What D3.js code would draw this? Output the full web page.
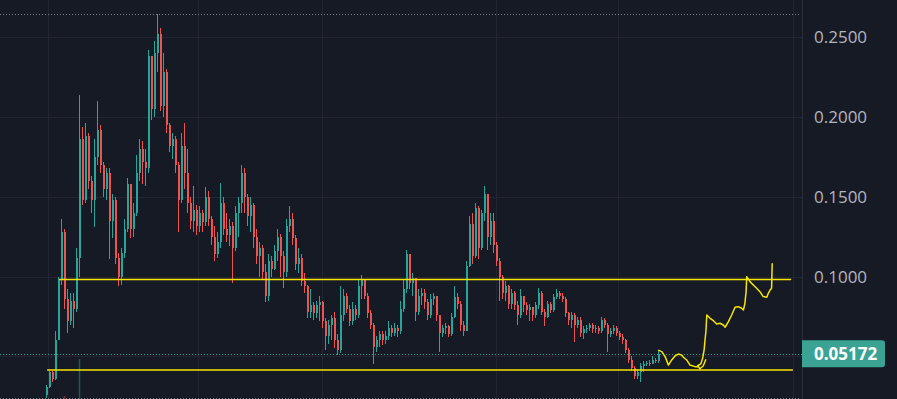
<!DOCTYPE html>
<html><head><meta charset="utf-8">
<script src="https://cdn.jsdelivr.net/npm/d3@7"></script>
<style>html,body{margin:0;padding:0;background:#161a25;overflow:hidden}</style>
</head><body><svg id="c" width="897" height="399"></svg>
<script>
// ---- data ----
const firstOpen = .026;
const closes = [
.031,.040,.036,.060,.098,.128,.086,.072,.085,.080,.112,.186,.148,.188,.160,.148,.175,.192,.170,.155,
.165,.135,.148,.112,.100,.115,.130,.158,.130,.140,.165,.180,.172,.168,.238,.205,.240,.252,.207,.228,
.195,.182,.186,.170,.148,.182,.165,.146,.135,.142,.132,.140,.134,.150,.136,.125,.114,.122,.146,.130,
.126,.132,.118,.140,.146,.165,.150,.138,.145,.125,.113,.118,.103,.088,.110,.105,.116,.125,.113,.103,
.132,.136,.124,.108,.112,.097,.094,.078,.082,.077,.082,.084,.072,.063,.070,.074,.060,.054,.076,.088,
.080,.072,.080,.076,.094,.098,.088,.077,.070,.056,.060,.064,.060,.063,.068,.065,.068,.066,.080,.092,
.114,.096,.099,.078,.088,.090,.084,.076,.086,.088,.076,.065,.068,.069,.064,.075,.087,.083,.070,.066,
.107,.133,.113,.143,.118,.140,.152,.125,.135,.120,.110,.100,.090,.094,.083,.090,.082,.076,.088,.082,
.079,.081,.076,.082,.090,.078,.075,.083,.079,.087,.090,.088,.086,.077,.073,.076,.070,.073,.065,.067,
.068,.070,.067,.068,.066,.073,.070,.064,.066,.068,.065,.062,.060,.054,.048,.043,.038,.040,.044,.045,
.046,.045,.048,.047,.05172];
const highs = [
.032,.041,.041,.066,.100,.136,.130,.092,.090,.090,.118,.214,.194,.196,.190,.163,.186,.210,.195,.172,
.168,.168,.152,.150,.115,.118,.136,.162,.158,.146,.176,.186,.185,.180,.242,.238,.248,.2644,.256,.240,
.230,.196,.190,.188,.172,.190,.196,.180,.150,.157,.145,.144,.142,.156,.154,.138,.132,.128,.159,.150,
.140,.136,.134,.144,.150,.170,.168,.152,.150,.146,.130,.122,.120,.108,.114,.113,.120,.130,.127,.116,
.136,.144,.140,.126,.118,.114,.102,.095,.092,.084,.085,.088,.085,.074,.073,.076,.078,.064,.094,.092,
.090,.082,.084,.082,.098,.101,.098,.090,.079,.071,.063,.066,.066,.066,.072,.070,.071,.070,.085,.098,
.117,.112,.102,.096,.092,.093,.092,.086,.089,.090,.088,.076,.070,.071,.070,.077,.094,.090,.085,.072,
.110,.138,.140,.146,.144,.142,.157,.152,.140,.140,.122,.112,.101,.097,.095,.092,.091,.085,.092,.088,
.084,.083,.081,.084,.093,.091,.080,.085,.084,.089,.092,.091,.090,.087,.078,.078,.077,.075,.075,.069,
.070,.071,.071,.070,.069,.075,.074,.071,.068,.070,.069,.066,.064,.061,.055,.050,.044,.042,.046,.047,
.047,.048,.050,.049,.054];
const lows = [
.024,.030,.034,.035,.065,.095,.080,.065,.070,.068,.078,.100,.145,.146,.155,.140,.131,.170,.165,.150,
.148,.111,.124,.108,.094,.095,.112,.128,.124,.125,.138,.160,.158,.157,.165,.198,.200,.228,.204,.200,
.190,.178,.174,.165,.128,.146,.155,.140,.130,.128,.126,.128,.128,.132,.132,.120,.110,.112,.118,.126,
.122,.119,.096,.116,.125,.140,.140,.132,.128,.118,.108,.100,.098,.084,.085,.100,.104,.110,.100,.093,
.100,.128,.120,.104,.102,.094,.090,.074,.074,.073,.074,.072,.068,.054,.058,.060,.055,.051,.052,.072,
.077,.069,.070,.073,.074,.086,.086,.074,.067,.045,.053,.056,.057,.058,.060,.062,.063,.062,.064,.078,
.090,.092,.088,.072,.076,.082,.080,.073,.074,.082,.072,.053,.062,.064,.062,.063,.074,.080,.066,.063,
.066,.106,.108,.112,.111,.117,.135,.117,.120,.115,.107,.085,.086,.085,.080,.080,.079,.070,.074,.078,
.076,.072,.072,.074,.080,.076,.069,.074,.077,.078,.086,.086,.084,.075,.070,.068,.059,.068,.062,.061,
.065,.066,.065,.065,.064,.065,.068,.053,.062,.064,.063,.060,.058,.052,.046,.041,.036,.036,.034,.040,
.044,.044,.045,.046,.046];
const yTicks = [0.25, 0.20, 0.15, 0.10, 0.05];
const yLabels = ["0.2500", "0.2000", "0.1500", "0.1000"];
const lastPrice = 0.05172;
const highLine = 0.2644, lowLine = 0.0240;
const resistance = 0.0983, support = 0.0415;
const timeGrid = [0.5, 50.5, 91.8, 149.8, 190.5, 248.8];
const volIdx = [6, 11], volVals = [3, 40];
// hand-drawn projection (bar index, price)
const projA = [[203.9,.0540],[205.1,.0530],[206.2,.0499],[207.3,.0446],[208.4,.0478],[209.5,.0503],
 [210.6,.0515],[211.7,.0509],[212.3,.0495],[213.4,.0478],[214.5,.0446],[216.2,.0436],[217.3,.0436],
 [217.8,.0423],[218.9,.0440],[219.8,.0482]];
const projB = [[216.9,.0440],[218.1,.0453],[218.7,.0488],[219.2,.0540],[219.5,.0603],[219.8,.0655],
 [220.1,.0760],[221.2,.0739],[222.3,.0724],[223.4,.0703],[224.5,.0708],[225.6,.0697],[226.2,.0683],
 [227.3,.0718],[228.4,.0760],[229.5,.0808],[230.6,.0812],[231.7,.0802],[232.3,.0791],[232.8,.0833],
 [233.2,.0906],[233.4,.1000],[234.5,.0969],[235.6,.0948],[236.7,.0927],[237.8,.0906],[238.9,.0875],
 [240.1,.0871],[240.6,.0896],[241.2,.0916],[241.7,.0927],[241.9,.1084]];

// ---- drawing ----
const W = 897, H = 399, plotR = 802;
const UP = "#26a69a", DOWN = "#ef5350", YEL = "#f7e600";
const svg = d3.select("#c");
const x = d3.scaleLinear().domain([0, 204]).range([46.5, 658.5]);
const y = d3.scaleLinear().domain([0.02333, 0.2734]).range([H, 0]);
const vy = d3.scaleLinear().domain([0, 100]).range([H, H - 100]);

svg.append("rect").attr("width", W).attr("height", H).attr("fill", "#161a25");

const grid = svg.append("g").attr("stroke", "#232632").attr("stroke-width", 1).attr("shape-rendering", "crispEdges");
grid.selectAll(".h").data(yTicks).join("line")
  .attr("x1", 0).attr("x2", plotR).attr("y1", d => Math.round(y(d)) + 0.5).attr("y2", d => Math.round(y(d)) + 0.5);
grid.selectAll(".v").data(timeGrid).join("line")
  .attr("y1", 0).attr("y2", H).attr("x1", d => Math.round(x(d)) + 0.5).attr("x2", d => Math.round(x(d)) + 0.5);
svg.append("line").attr("x1", plotR + 0.5).attr("x2", plotR + 0.5).attr("y1", 0).attr("y2", H)
  .attr("stroke", "#2a2e39").attr("stroke-width", 1);

// volume
svg.append("g").selectAll("rect").data(volIdx).join("rect")
  .attr("x", d => x(d) - 0.75).attr("width", 1.5)
  .attr("y", (d, k) => vy(volVals[k])).attr("height", (d, k) => H - vy(volVals[k]))
  .attr("fill", d => (closes[d] >= (d ? closes[d - 1] : firstOpen)) ? UP : DOWN).attr("opacity", 0.45);

// candles
const data = closes.map((c, i) => ({ i, o: i ? closes[i - 1] : firstOpen, c, h: highs[i], l: lows[i] }));
const cg = svg.append("g").attr("shape-rendering", "crispEdges");
const cs = cg.selectAll("g").data(data).join("g").attr("fill", d => d.c >= d.o ? UP : DOWN);
cs.append("rect").attr("x", d => x(d.i) - 0.5).attr("width", 1)
  .attr("y", d => y(d.h)).attr("height", d => Math.max(1, y(d.l) - y(d.h)));
cs.append("rect").attr("x", d => x(d.i) - 1).attr("width", 2.2)
  .attr("y", d => y(Math.max(d.o, d.c))).attr("height", d => Math.max(1, Math.abs(y(d.o) - y(d.c))));

// dotted price lines
const dotted = (v, col, x2) => svg.append("line").attr("x1", 0).attr("x2", x2)
  .attr("y1", Math.round(y(v)) + 0.5).attr("y2", Math.round(y(v)) + 0.5)
  .attr("stroke", col).attr("stroke-width", 1).attr("stroke-dasharray", "1,2");
dotted(highLine, "#787b86", 800);
dotted(lowLine, "#787b86", 800);
dotted(lastPrice, UP, plotR);

// horizontal yellow lines
svg.append("line").attr("x1", x(4.2)).attr("x2", x(248.2)).attr("y1", y(resistance)).attr("y2", y(resistance))
  .attr("stroke", YEL).attr("stroke-width", 1.5);
svg.append("line").attr("x1", x(0.2)).attr("x2", x(248.8)).attr("y1", y(support)).attr("y2", y(support))
  .attr("stroke", YEL).attr("stroke-width", 1.5);

// projection drawing
const line = d3.line().x(d => x(d[0])).y(d => y(d[1]));
[projA, projB].forEach(p => svg.append("path").attr("d", line(p)).attr("fill", "none")
  .attr("stroke", YEL).attr("stroke-width", 1.5).attr("stroke-linejoin", "round"));

// right axis
const axis = d3.axisRight(y).tickValues(yTicks.slice(0, yLabels.length))
  .tickFormat((d, k) => yLabels[k]).tickSize(0).tickPadding(12);
const ag = svg.append("g").attr("transform", `translate(${plotR},0)`).call(axis);
ag.select(".domain").remove();
ag.selectAll("text").attr("fill", "#b2b5be").style("font-family", "'Open Sans', sans-serif").style("font-size", "17px");

// last price label
const ly = y(lastPrice);
svg.append("path").attr("fill", "#3ba394")
  .attr("d", `M${plotR},${ly - 13.5} h80 a3,3 0 0 1 3,3 v21 a3,3 0 0 1 -3,3 h-80 Z`);
svg.append("text").attr("x", 814).attr("y", ly).attr("dy", "0.35em").attr("fill", "#ffffff")
  .style("font-family", "'Open Sans', sans-serif").style("font-size", "17px").style("font-weight", "700")
  .text(lastPrice.toFixed(5));
</script></body></html>
